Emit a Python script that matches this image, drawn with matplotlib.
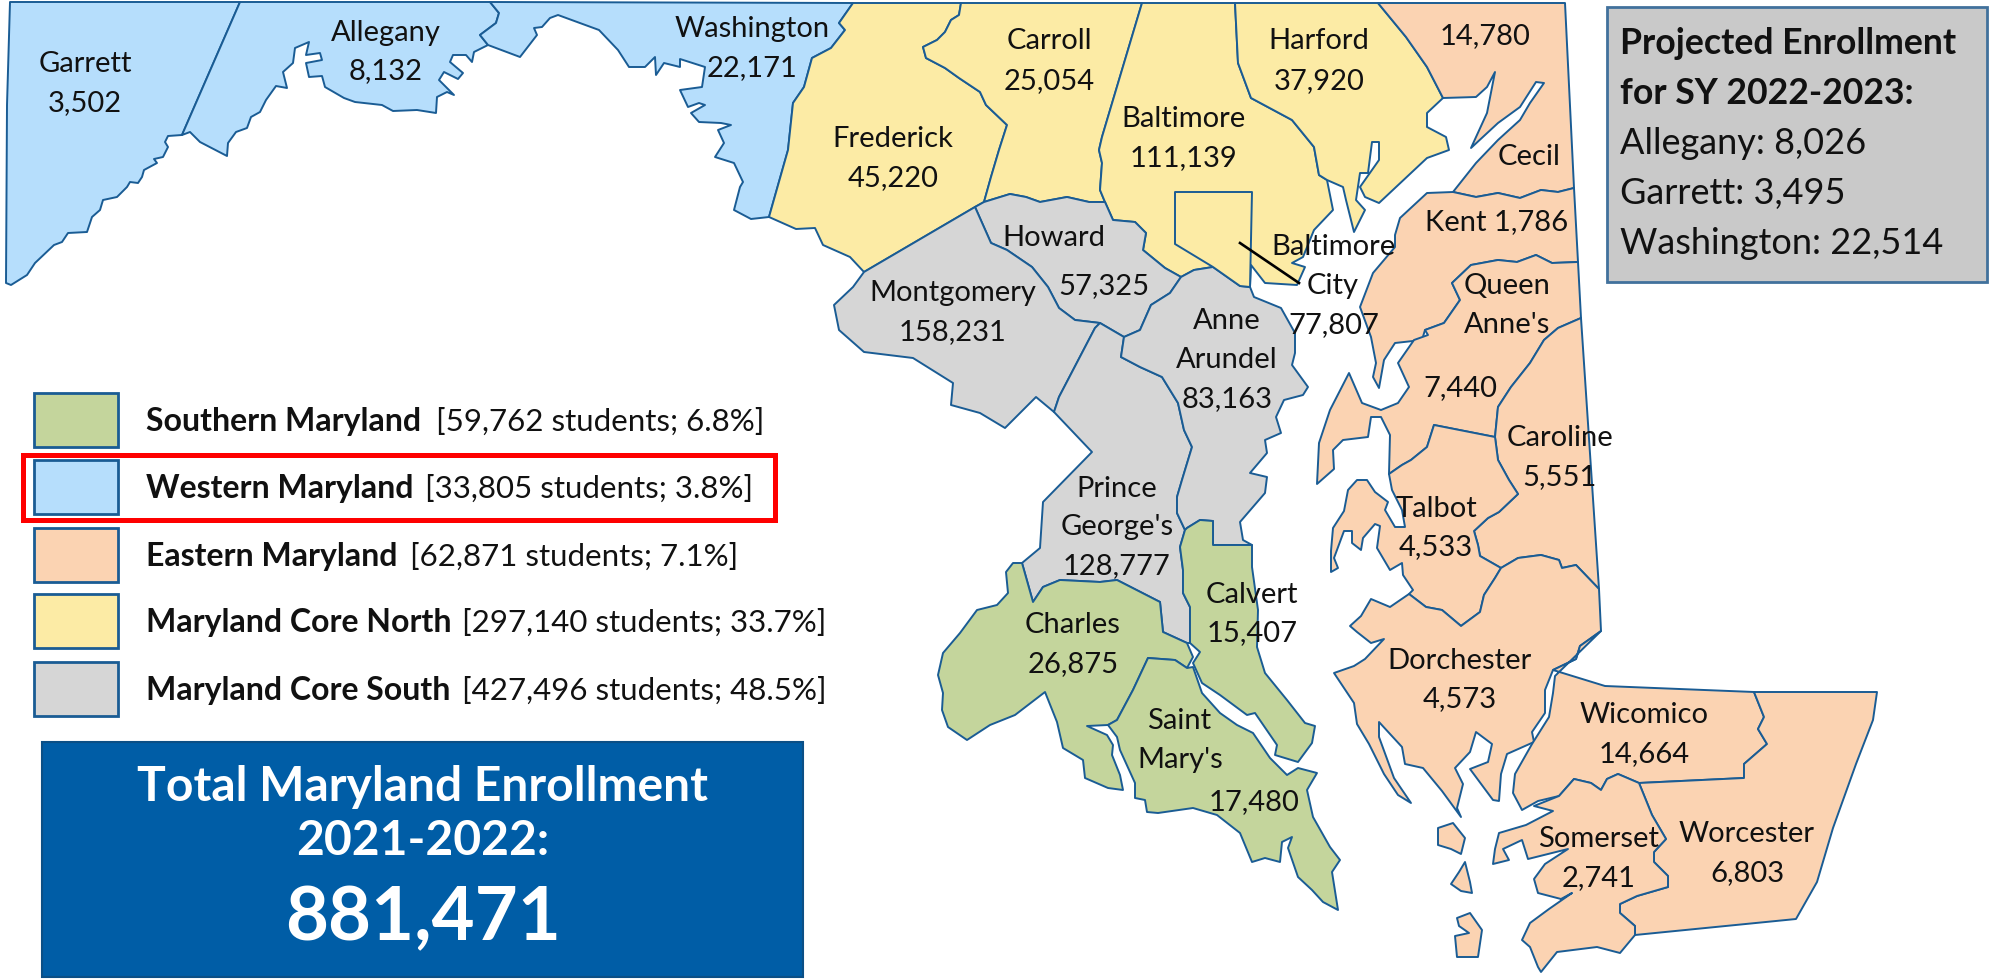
import matplotlib
matplotlib.use('Agg')
import matplotlib.pyplot as plt
from matplotlib.patches import Rectangle

plt.rcParams['font.family'] = ['Lato', 'DejaVu Sans']

# colours of the five regions
green = '#C4D59C'
blue = '#B6DEFC'
peach = '#FBD3B2'
yellow = '#FCEBA5'
gray = '#D6D6D6'
edge = '#1A5C94'

# ---- shared borders, image pixels ----
gar_all = [(240, 2), (182, 135)]
all_was = [(490, 2), (499, 13), (496, 23), (480, 35), (488, 45)]
was_fre = [(853, 3), (839, 23), (845, 30), (831, 48), (812, 58), (804, 87), (793, 103), (788, 150), (769, 217)]
fre_car = [(961, 3), (959, 15), (951, 20), (945, 32), (937, 40), (923, 47), (926, 58), (945, 68), (959, 78),
           (980, 92), (986, 105), (1007, 125), (999, 150), (991, 177), (984, 202)]
car_bal = [(1142, 3), (1116, 90), (1102, 137), (1099, 150), (1102, 163), (1100, 190), (1105, 202)]
car_how = [(984, 202), (1010, 194), (1026, 197), (1040, 202), (1067, 197), (1089, 202), (1105, 202)]
bal_how = [(1105, 202), (1113, 220), (1135, 222), (1146, 233), (1143, 250), (1165, 268), (1181, 277)]
bal_aa = [(1181, 277), (1194, 270), (1213, 267), (1240, 286), (1250, 287)]
bal_har = [(1235, 3), (1238, 63), (1251, 98), (1292, 120), (1314, 147), (1319, 175), (1327, 180)]
har_cec = [(1378, 3), (1406, 37), (1427, 67), (1443, 98)]
fre_mon = [(975, 207), (864, 272)]
how_mon = [(975, 207), (991, 243), (1007, 250), (1032, 267), (1048, 287), (1059, 308), (1075, 320), (1100, 323)]
how_aa = [(1124, 337), (1140, 330), (1151, 305), (1170, 293), (1181, 277)]
pg_aa = [(1124, 337), (1121, 357), (1140, 367), (1162, 377), (1178, 403), (1184, 430), (1192, 447), (1182, 480),
         (1177, 497), (1177, 513), (1185, 530), (1187, 528)]
pg_cal = [(1187, 528), (1185, 530), (1180, 547), (1183, 570), (1183, 593), (1190, 607), (1190, 643)]
pg_cha = [(1187, 643), (1163, 632), (1160, 602), (1117, 580), (1100, 582), (1060, 580), (1043, 587), (1033, 602), (1022, 563)]
aa_cal = [(1187, 528), (1200, 520), (1213, 521), (1213, 545), (1252, 545)]
cha_stm = [(1187, 668), (1175, 660), (1148, 658), (1133, 690), (1117, 720), (1108, 725)]
kent_qa = [(1578, 262), (1552, 263), (1536, 255), (1517, 262), (1498, 260), (1471, 265), (1452, 283), (1460, 300),
           (1444, 323), (1425, 330)]
qa_car = [(1581, 318), (1558, 328), (1544, 340), (1530, 363), (1511, 387), (1498, 407), (1495, 437)]
qa_tal = [(1495, 437), (1434, 425), (1427, 447), (1411, 460), (1402, 465), (1389, 474)]
car_tal = [(1495, 437), (1498, 460), (1509, 480), (1518, 494), (1499, 512), (1488, 518), (1474, 531), (1478, 545),
           (1480, 556), (1501, 568)]
car_dor = [(1501, 568), (1518, 558), (1541, 555), (1559, 560), (1562, 568), (1576, 565), (1599, 589)]
tal_dor = [(1409, 594), (1426, 607), (1442, 610), (1461, 626), (1480, 612), (1484, 595), (1495, 578), (1501, 568)]
dor_wic = [(1601, 631), (1580, 646), (1576, 659), (1553, 670)]
wic_wor = [(1754, 692), (1764, 717), (1758, 729), (1767, 744), (1744, 764), (1744, 778), (1639, 783)]
wic_som = [(1639, 783), (1618, 774), (1607, 779), (1601, 790), (1591, 783), (1574, 779), (1559, 796)]
som_wor = [(1639, 783), (1652, 815), (1666, 839), (1654, 852), (1654, 862), (1668, 876), (1668, 887), (1637, 896),
           (1620, 904), (1620, 913), (1635, 926), (1635, 935)]

# ---- county outlines ----
garrett = [(10, 2)] + gar_all + [(168, 136), (165, 142), (168, 147), (163, 157), (154, 159), (157, 163), (144, 170), (142, 177),
           (138, 183), (130, 182), (127, 187), (117, 197), (103, 200), (100, 210), (92, 217), (87, 232), (68, 233),
           (62, 242), (54, 245), (35, 263), (27, 275), (11, 285), (6, 283), (7, 105)]
allegany = gar_all + [(190, 132), (200, 142), (227, 156), (228, 143), (236, 132), (247, 128), (251, 117), (260, 112),
            (266, 100), (276, 86), (287, 88), (283, 72), (293, 63), (295, 48), (309, 42), (306, 55), (320, 53),
            (322, 60), (306, 63), (309, 77), (322, 76), (325, 87), (344, 98), (355, 102), (382, 105), (393, 111),
            (417, 110), (436, 113), (437, 97), (447, 92), (454, 95), (439, 80), (444, 72), (458, 79), (463, 73),
            (450, 62), (453, 55), (466, 55), (472, 62), (474, 52)] + all_was[::-1]
washington = all_was + [(520, 57), (537, 35), (534, 28), (542, 27), (550, 18), (558, 15), (599, 30), (618, 50), (629, 67),
              (645, 67), (655, 57), (656, 75), (664, 63), (680, 67), (680, 59), (705, 67), (702, 87), (680, 90),
              (688, 107), (699, 103), (705, 105), (691, 113), (699, 122), (721, 123), (731, 125), (718, 130),
              (724, 143), (715, 157), (734, 163), (743, 182), (740, 187), (734, 210), (751, 219)] + was_fre[::-1]
frederick = was_fre + [(796, 229), (815, 228), (823, 245), (850, 257), (864, 272)] + fre_mon[::-1] + fre_car[::-1]
carroll = fre_car + car_how[1:] + car_bal[::-1]
baltimore = car_bal + bal_how[1:] + bal_aa[1:] + [(1251, 265), (1265, 283), (1297, 285), (1305, 267), (1292, 263),
             (1303, 257), (1314, 230), (1333, 210), (1327, 180)] + bal_har[::-1]
baltimore_city = [(1175, 192), (1252, 192), (1250, 287), (1240, 286), (1213, 267), (1175, 244)]
harford = bal_har + [(1343, 187), (1346, 200), (1354, 232), (1365, 210), (1356, 200), (1360, 173), (1368, 173), (1372, 142),
           (1379, 142), (1379, 160), (1360, 187), (1365, 197), (1379, 203), (1427, 158), (1449, 150), (1446, 137),
           (1427, 127), (1427, 113)] + har_cec[::-1]
howard = car_how + bal_how[1:] + how_aa[::-1][1:] + [(1100, 323)] + how_mon[::-1][1:]
montgomery = how_mon + [(1095, 328), (1059, 397), (1054, 412), (1036, 397), (1005, 428), (980, 413), (951, 405), (953, 383),
              (913, 358), (864, 352), (839, 330), (834, 305), (853, 287), (864, 272)]
prince_georges = [(1100, 323)] + pg_aa + pg_cal[1:] + pg_cha + [(1040, 548), (1043, 502), (1092, 452), (1054, 412),
                  (1059, 397), (1095, 328)]
anne_arundel = how_aa + bal_aa[1:] + [(1254, 297), (1281, 308), (1295, 333), (1295, 353), (1292, 365), (1308, 387), (1303, 395),
                (1284, 400), (1276, 417), (1281, 433), (1265, 440), (1267, 453), (1250, 473), (1267, 477), (1265, 493),
                (1240, 522), (1243, 540), (1252, 545)] + aa_cal[::-1] + pg_aa[::-1]
calvert = aa_cal + [(1252, 567), (1258, 610), (1257, 647), (1265, 673), (1287, 700), (1305, 723), (1315, 726), (1312, 743),
           (1298, 762), (1275, 755), (1277, 745), (1255, 713), (1247, 715), (1220, 695), (1202, 683), (1193, 663),
           (1200, 652)] + pg_cal[::-1]
charles = pg_cha[::-1] + [(1193, 657)] + cha_stm + [(1087, 726), (1107, 735), (1113, 745), (1112, 755), (1120, 775),
           (1123, 790), (1108, 788), (1085, 778), (1083, 760), (1063, 748), (1057, 722), (1045, 692), (1015, 715),
           (990, 725), (967, 740), (948, 727), (942, 710), (943, 693), (938, 675), (943, 653), (960, 633), (977, 610),
           (997, 605), (1008, 593), (1006, 572), (1013, 563)]
saint_marys = cha_stm + [(1117, 737), (1120, 750), (1135, 783), (1135, 798), (1145, 800), (1147, 812), (1158, 813), (1193, 808),
               (1217, 815), (1240, 833), (1252, 862), (1265, 858), (1280, 862), (1282, 842), (1292, 837), (1288, 848),
               (1298, 877), (1312, 890), (1323, 902), (1338, 910), (1332, 872), (1340, 860), (1330, 847), (1313, 817),
               (1307, 790), (1317, 773), (1298, 768), (1287, 775), (1270, 758), (1253, 733), (1237, 725), (1220, 713),
               (1202, 693), (1193, 667)]
cecil = [(1378, 3), (1565, 3), (1574, 188), (1558, 192), (1541, 190), (1520, 198), (1498, 193), (1476, 197), (1453, 192),
         (1476, 163), (1498, 140), (1520, 120), (1530, 103), (1544, 83), (1536, 82), (1520, 107), (1498, 123), (1471, 148),
         (1487, 113), (1495, 72), (1487, 87), (1476, 97)] + har_cec[::-1][:-1]
kent = [(1453, 192), (1476, 197), (1498, 193), (1520, 198), (1541, 190), (1558, 192), (1574, 188)] + kent_qa \
       + [(1422, 340), (1395, 343), (1384, 360), (1379, 388), (1373, 377), (1376, 363), (1371, 337), (1360, 307), (1373, 273),
          (1395, 247), (1395, 235), (1400, 218), (1427, 193)]
queen_annes = kent_qa + [(1428, 335), (1414, 340), (1398, 363), (1409, 387), (1398, 403), (1381, 410), (1362, 403), (1349, 373),
                (1330, 410), (1319, 443), (1317, 484), (1334, 469), (1333, 450), (1343, 440), (1368, 437), (1371, 417),
                (1381, 417), (1390, 435)] + qa_tal[::-1] + qa_car[::-1]
caroline = qa_car + car_tal[1:] + car_dor[1:]
talbot = qa_tal + [(1392, 490), (1402, 510), (1405, 527), (1395, 527), (1385, 510), (1388, 502), (1375, 492), (1367, 480),
          (1357, 480), (1348, 490), (1344, 511), (1333, 528), (1331, 551), (1331, 572), (1338, 568), (1334, 558),
          (1344, 531), (1352, 531), (1352, 543), (1361, 550), (1363, 538), (1375, 524), (1380, 526), (1377, 548),
          (1390, 570), (1402, 563), (1403, 575), (1413, 590)] + tal_dor + car_tal[::-1]
dorchester = tal_dor + car_dor[1:] + dor_wic + [(1545, 690), (1545, 713), (1532, 732), (1534, 742), (1507, 754), (1501, 774),
              (1499, 801), (1493, 800), (1470, 769), (1488, 762), (1492, 744), (1476, 732), (1470, 752), (1455, 768),
              (1463, 784), (1457, 808), (1461, 817), (1442, 791), (1423, 768), (1405, 764), (1402, 747), (1379, 722),
              (1379, 737), (1394, 778), (1411, 803), (1398, 795), (1384, 774), (1369, 744), (1357, 724), (1354, 703),
              (1334, 673), (1354, 666), (1365, 659), (1384, 639), (1371, 643), (1357, 632), (1350, 626), (1361, 616),
              (1371, 599), (1390, 607)]
wicomico = dor_wic[::-1] + [(1555, 676), (1553, 693), (1549, 717), (1532, 744), (1515, 774), (1513, 793), (1522, 810), (1538, 801)] \
           + wic_som[::-1] + wic_wor[::-1] + [(1605, 686)]
worcester = wic_wor + som_wor[1:] + [(1796, 919), (1817, 882), (1833, 828), (1856, 764), (1873, 720), (1877, 692)]
somerset = wic_som + [(1534, 806), (1553, 811), (1526, 825), (1499, 833), (1495, 849), (1493, 864), (1509, 860), (1503, 849),
            (1522, 840), (1528, 859), (1568, 849), (1545, 864), (1534, 879), (1538, 893), (1561, 899), (1572, 893),
            (1549, 909), (1530, 923), (1522, 940), (1530, 947), (1538, 967), (1541, 972), (1557, 952), (1597, 947),
            (1620, 953), (1635, 935)] + som_wor[::-1][1:]
island_1 = [(1438, 828), (1453, 823), (1465, 838), (1461, 854), (1451, 849), (1438, 845)]
island_2 = [(1465, 862), (1470, 882), (1472, 893), (1461, 891), (1451, 884), (1459, 872)]
island_3 = [(1457, 918), (1470, 913), (1482, 930), (1478, 957), (1457, 957), (1455, 936), (1469, 933), (1459, 926)]

counties = [
    (garrett, blue), (allegany, blue), (washington, blue),
    (frederick, yellow), (carroll, yellow), (baltimore, yellow), (harford, yellow),
    (howard, gray), (montgomery, gray), (prince_georges, gray), (anne_arundel, gray),
    (calvert, green), (charles, green), (saint_marys, green),
    (cecil, peach), (kent, peach), (queen_annes, peach), (caroline, peach), (talbot, peach),
    (dorchester, peach), (wicomico, peach), (worcester, peach), (somerset, peach),
    (island_1, peach), (island_2, peach), (island_3, peach),
    (baltimore_city, yellow),
]

# label text with the centre of each line
map_labels = [
    ('Garrett', 85, 61), ('3,502', 85, 100), ('Allegany', 386, 30), ('8,132', 386, 68),
    ('Washington', 752, 26), ('22,171', 752, 65), ('Carroll', 1049, 38), ('25,054', 1049, 78),
    ('Harford', 1319, 38), ('37,920', 1319, 78), ('14,780', 1485, 33), ('Frederick', 893, 136),
    ('45,220', 893, 175), ('Baltimore', 1184, 116), ('111,139', 1184, 155), ('Cecil', 1529, 154),
    ('Kent 1,786', 1497, 219), ('Howard', 1054, 235), ('57,325', 1104, 283), ('Montgomery', 953, 290),
    ('158,231', 953, 329), ('Baltimore', 1334, 244), ('City', 1333, 283), ('77,807', 1334, 322),
    ('Queen', 1507, 283), ("Anne's", 1507, 322), ('7,440', 1460, 385), ('Anne', 1227, 318),
    ('Arundel', 1227, 357), ('83,163', 1227, 396), ('Caroline', 1560, 435), ('5,551', 1560, 474),
    ('Talbot', 1437, 506), ('4,533', 1436, 544), ('Dorchester', 1460, 658), ('4,573', 1460, 696),
    ('Wicomico', 1644, 712), ('14,664', 1644, 751), ('Somerset', 1599, 836), ('2,741', 1599, 875),
    ('Worcester', 1747, 831), ('6,803', 1747, 870), ('Prince', 1117, 486), ("George's", 1117, 524),
    ('128,777', 1117, 563), ('Calvert', 1252, 592), ('15,407', 1252, 630), ('Charles', 1073, 622),
    ('26,875', 1073, 661), ('Saint', 1179, 718), ("Mary's", 1180, 757), ('17,480', 1254, 799),
]

legend_names = ['Southern Maryland', 'Western Maryland', 'Eastern Maryland', 'Maryland Core North', 'Maryland Core South']
legend_values = ['[59,762 students; 6.8%]', '[33,805 students; 3.8%]', '[62,871 students; 7.1%]',
                 '[297,140 students; 33.7%]', '[427,496 students; 48.5%]']
legend_colors = [green, blue, peach, yellow, gray]
legend_tops = [393, 460, 528, 594, 662]
legend_value_x = [436, 425, 410, 462, 462]

projected_head = ['Projected Enrollment', 'for SY 2022-2023:']
projected_rows = ['Allegany: 8,026', 'Garrett: 3,495', 'Washington: 22,514']

fig = plt.figure(figsize=(19.89, 9.8), dpi=100)
ax = fig.add_axes([0, 0, 1, 1])
ax.set_xlim(0, 1989)
ax.set_ylim(980, 0)
ax.axis('off')

for pts, col in counties:
    xs, ys = zip(*pts)
    ax.fill(xs, ys, facecolor=col, edgecolor=edge, lw=1.4, joinstyle='round')

# line from the Baltimore City label into the city
ax.plot([1240, 1299], [243, 283], color='black', lw=1.9)

for s, x, y in map_labels:
    ax.text(x, y + 11, s, ha='center', va='baseline', fontsize=21, color='#111111')

# legend
for i in range(5):
    ax.add_patch(Rectangle((34, legend_tops[i]), 84, 54, facecolor=legend_colors[i], edgecolor=edge, lw=2))
    base = legend_tops[i] + 38
    ax.text(146, base, legend_names[i], fontweight='bold', fontsize=23, color='#111111', va='baseline')
    ax.text(legend_value_x[i], base, legend_values[i], fontsize=22.5, color='#111111', va='baseline')
ax.add_patch(Rectangle((23, 455), 752, 65, fill=False, edgecolor='#FE0000', lw=3.6))

# total box
ax.add_patch(Rectangle((42, 742), 761, 235, facecolor='#005DA6', edgecolor='#0B4F86', lw=1.5))
ax.text(423, 801, 'Total Maryland Enrollment', color='white', fontweight='bold', fontsize=34.6, ha='center', va='baseline')
ax.text(423, 855, '2021-2022:', color='white', fontweight='bold', fontsize=34.6, ha='center', va='baseline')
ax.text(423, 940, '881,471', color='white', fontweight='bold', fontsize=53.5, ha='center', va='baseline')

# projected box
ax.add_patch(Rectangle((1607, 7), 380, 275, facecolor='#C9C9C9', edgecolor='#41719C', lw=2))
for i, s in enumerate(projected_head):
    ax.text(1620, 54 + i * 50, s, fontweight='bold', fontsize=25.7, color='#111111', va='baseline')
for i, s in enumerate(projected_rows):
    ax.text(1620, 154 + i * 50, s, fontsize=26, color='#111111', va='baseline')

fig.savefig('out.png', dpi=100)
